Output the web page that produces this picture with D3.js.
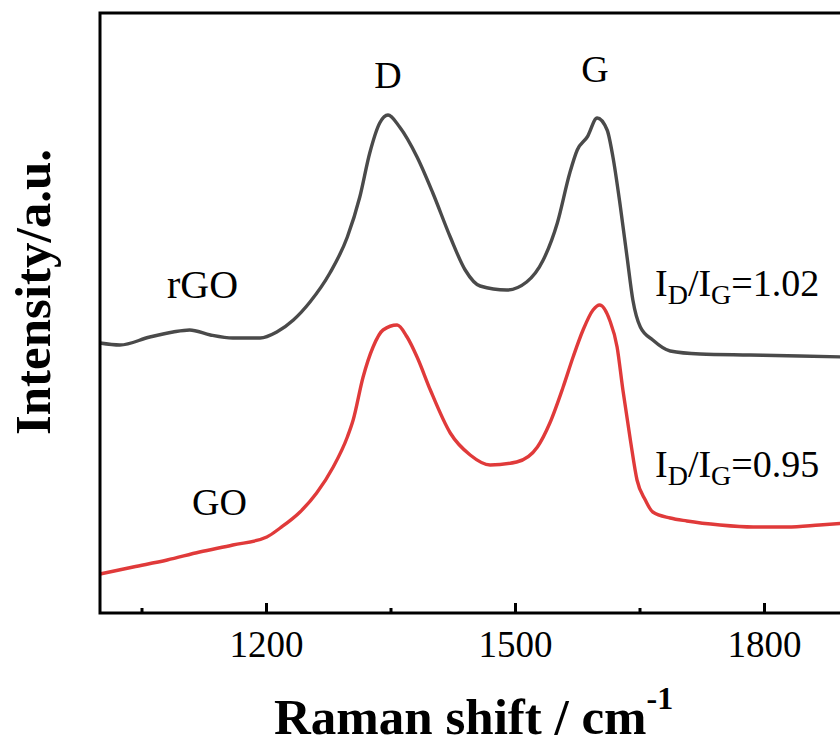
<!DOCTYPE html>
<html>
<head>
<meta charset="utf-8">
<script src="https://cdn.jsdelivr.net/npm/d3@7"></script>
<style>
  body { margin: 0; background: #fff; }
  svg text { font-family: "Times New Roman", "Liberation Serif", serif; fill: #000; }
</style>
</head>
<body>
<svg id="chart"></svg>
<script>
// Raman shift (cm-1) and intensity (a.u.)
const rgoShift = [1000, 1024, 1060, 1088, 1108, 1133, 1160, 1193, 1213, 1233, 1253, 1277, 1298, 1313, 1325, 1337, 1347,
  1361, 1382, 1401, 1422, 1440, 1458, 1490, 1514, 1534, 1551, 1566, 1575, 1587, 1599, 1611, 1618, 1627, 1635, 1642,
  1651, 1666, 1687, 1723, 1783, 1843, 1900];
const rgoInt = [270, 268, 276, 281, 283, 278, 275, 275, 281, 293, 311, 340, 376, 416, 460, 490, 498,
  486, 456, 420, 376, 343, 327, 323, 331, 353, 390, 440, 463, 476, 495, 483, 456, 406, 356, 313,
  286, 273, 262, 259, 258, 257, 256];

const goShift = [1000, 1040, 1081, 1120, 1160, 1201, 1217, 1241, 1261, 1281, 1298, 1305, 1317, 1329, 1341, 1358, 1370,
  1382, 1398, 1422, 1446, 1470, 1502, 1527, 1542, 1558, 1570, 1582, 1594, 1602, 1614, 1623, 1630, 1639, 1647,
  1657, 1666, 1687, 1707, 1747, 1787, 1828, 1867, 1900];
const goInt = [39, 46, 53, 61, 68, 76, 85, 101, 120, 146, 176, 193, 236, 266, 283, 288, 276,
  256, 223, 180, 158, 148, 151, 166, 190, 226, 256, 283, 303, 308, 293, 266, 223, 173, 133,
  113, 101, 95, 92, 88, 86, 86, 88, 90];

const majorTicks = [1200, 1500, 1800];
const minorTicks = [1050, 1350, 1650];

const width = 840, height = 746;
const mLeft = 100, mTop = 13, mBottom = 613, mRight = 847;

const svg = d3.select("#chart").attr("width", width).attr("height", height);

const x = d3.scaleLinear().domain([1000, 1900]).range([mLeft, mRight]);
const y = d3.scaleLinear().domain([0, 600]).range([mBottom, mTop]);

const line = d3.line()
  .x(d => x(d[0]))
  .y(d => y(d[1]))
  .curve(d3.curveMonotoneX);

svg.append("path")
  .datum(d3.zip(rgoShift, rgoInt))
  .attr("d", line)
  .attr("fill", "none")
  .attr("stroke", "#4a4a4a")
  .attr("stroke-width", 3.4)
  .attr("stroke-linejoin", "round");

svg.append("path")
  .datum(d3.zip(goShift, goInt))
  .attr("d", line)
  .attr("fill", "none")
  .attr("stroke", "#e03a3a")
  .attr("stroke-width", 3.4)
  .attr("stroke-linejoin", "round");

// frame
svg.append("rect")
  .attr("x", mLeft).attr("y", mTop)
  .attr("width", mRight - mLeft).attr("height", mBottom - mTop)
  .attr("fill", "none").attr("stroke", "#000").attr("stroke-width", 3);

// ticks point inward
const minorAxis = svg.append("g")
  .attr("transform", `translate(0,${mBottom})`)
  .call(d3.axisBottom(x).tickValues(minorTicks).tickSize(-5).tickFormat(""));
const majorAxis = svg.append("g")
  .attr("transform", `translate(0,${mBottom})`)
  .call(d3.axisBottom(x).tickValues(majorTicks).tickSize(-10).tickFormat(d3.format("d")));

svg.selectAll(".domain").remove();
svg.selectAll(".tick line").attr("stroke", "#000").attr("stroke-width", 3);
majorAxis.selectAll("text")
  .attr("y", 44).attr("dy", null)
  .attr("font-size", 37)
  .attr("font-family", "\"Times New Roman\", \"Liberation Serif\", serif");

// axis titles
svg.append("text")
  .attr("x", 274).attr("y", 734)
  .attr("font-size", 51).attr("font-weight", "bold")
  .text("Raman shift / cm")
  .append("tspan")
  .attr("font-size", 32).attr("dy", -25)
  .text("-1");

svg.append("text")
  .attr("transform", "translate(50,292) rotate(-90)")
  .attr("text-anchor", "middle")
  .attr("font-size", 51).attr("font-weight", "bold")
  .text("Intensity/a.u.");

// peak labels
svg.append("text").attr("x", 388).attr("y", 88).attr("text-anchor", "middle")
  .attr("font-size", 38).text("D");
svg.append("text").attr("x", 595).attr("y", 82).attr("text-anchor", "middle")
  .attr("font-size", 38).text("G");

svg.append("text").attr("x", 167).attr("y", 298).attr("font-size", 40).text("rGO");
svg.append("text").attr("x", 192).attr("y", 515).attr("font-size", 38).text("GO");

// ratio labels
function ratio(yPos, val) {
  const t = svg.append("text").attr("x", 655).attr("y", yPos).attr("font-size", 38);
  t.append("tspan").text("I");
  t.append("tspan").attr("font-size", 28).attr("dy", 8).text("D");
  t.append("tspan").attr("dy", -8).text("/I");
  t.append("tspan").attr("font-size", 28).attr("dy", 8).text("G");
  t.append("tspan").attr("dy", -8).text("=" + val);
}
ratio(296, "1.02");
ratio(477, "0.95");
</script>
</body>
</html>
